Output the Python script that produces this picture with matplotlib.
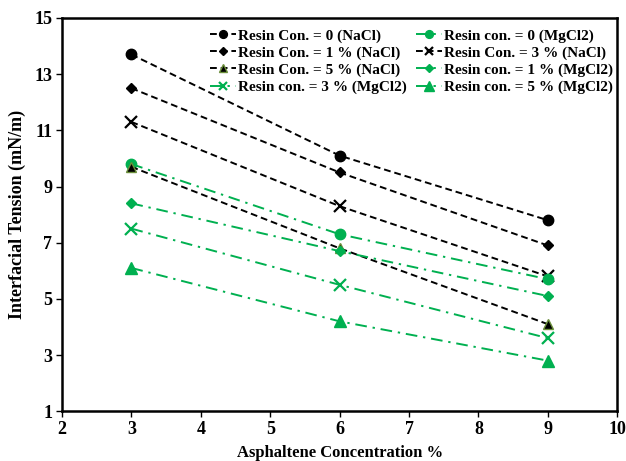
import numpy as np
import matplotlib
matplotlib.use("Agg")
import matplotlib.pyplot as plt

plt.rcParams['font.family'] = ['Liberation Serif', 'DejaVu Serif']
plt.rcParams['font.weight'] = 'bold'

# asphaltene concentration (%)
asph = [3, 6, 9]

# interfacial tension (mN/m)
nacl_0 = [13.7, 10.1, 7.8]
nacl_1 = [12.5, 9.5, 6.9]
nacl_3 = [11.3, 8.3, 5.8]
nacl_5 = [9.7, 6.8, 4.1]
mg_0 = [9.8, 7.3, 5.7]
mg_1 = [8.4, 6.7, 5.1]
mg_3 = [7.5, 5.5, 3.6]
mg_5 = [6.1, 4.2, 2.8]

GREEN = '#00B050'

fig = plt.figure(figsize=(6.26, 4.61), dpi=100)
ax = fig.add_axes([0.099, 0.108, 0.887, 0.853])

blk = dict(color='black', linestyle=(0, (3.5, 2)), linewidth=1.4)
grn = dict(color=GREEN, linestyle=(0, (6, 3, 1.2, 3)), linewidth=1.4)

h_n0, = ax.plot(asph, nacl_0, marker='o', markersize=7.5, label='Resin Con. = 0 (NaCl)', **blk)
h_n1, = ax.plot(asph, nacl_1, marker='D', markersize=5.5, label='Resin Con. = 1 % (NaCl)', **blk)
h_n3, = ax.plot(asph, nacl_3, marker='x', markersize=8.5, markeredgewidth=1.6, label='Resin Con. = 3 % (NaCl)', **blk)
h_m0, = ax.plot(asph, mg_0, marker='o', markersize=7.5, label='Resin con. = 0 (MgCl2)', **grn)
h_n5, = ax.plot(asph, nacl_5, marker='^', markersize=7, markeredgecolor='#6b8f3a', label='Resin Con. = 5 % (NaCl)', **blk)
h_m1, = ax.plot(asph, mg_1, marker='D', markersize=5.5, label='Resin con. = 1 % (MgCl2)', **grn)
h_m3, = ax.plot(asph, mg_3, marker='x', markersize=8.5, markeredgewidth=1.6, label='Resin con. = 3 % (MgCl2)', **grn)
h_m5, = ax.plot(asph, mg_5, marker='^', markersize=9, label='Resin con. = 5 % (MgCl2)', **grn)

ax.set_xlim(2, 10)
ax.set_ylim(1, 15)
ax.set_xticks(np.arange(2, 11, 1))
ax.set_yticks(np.arange(1, 16, 2))
ax.tick_params(direction='out', length=4, width=1, labelsize=13, pad=3)
for lab in ax.get_xticklabels() + ax.get_yticklabels():
    lab.set_fontweight('bold')
for s in ax.spines.values():
    s.set_linewidth(1.8)

ax.set_xlabel('Asphaltene Concentration %', fontsize=12, fontweight='bold', labelpad=5)
ax.set_ylabel('Interfacial Tension (mN/m)', fontsize=13, fontweight='bold', labelpad=6)

handles = [h_n0, h_n1, h_n5, h_m3, h_m0, h_n3, h_m1, h_m5]
ax.legend(handles=handles, ncol=2, loc='upper right', bbox_to_anchor=(1.012, 1.0),
          frameon=False, prop={'size': 11, 'weight': 'bold'}, handlelength=1.7,
          handletextpad=0.15, columnspacing=0.6, labelspacing=0.22,
          borderaxespad=0.3, markerscale=0.75)

fig.savefig('out.png', dpi=100)
